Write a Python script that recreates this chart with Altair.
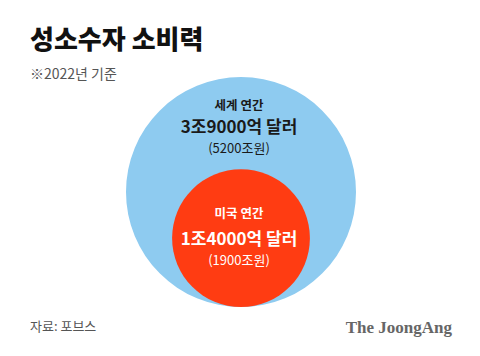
import altair as alt
import pandas as pd

# ---- data ----
labels = ["세계", "미국"]
values_usd_trillion = [3.9, 1.4]
line1 = ["세계 연간", "미국 연간"]
line2 = ["3조9000억 달러", "1조4000억 달러"]
line3 = ["(5200조원)", "(1900조원)"]
colors = ["#8ECBF0", "#FF3C12"]
text_colors = ["#1A1A1A", "#FFFFFF"]

title = "성소수자 소비력"
subtitle = "※2022년 기준"
source = "자료: 포브스"
brand = "The JoongAng"

# ---- layout (chart pixel space) ----
W, H = 464, 340
R_MAX = 115
BOTTOM = 299
CX = 233
FONT = "Noto Sans CJK KR"

df = pd.DataFrame({
    "label": labels,
    "value": values_usd_trillion,
    "line1": line1,
    "line2": line2,
    "line3": line3,
})

vmax = max(values_usd_trillion)
xs = alt.Scale(domain=[0, W], range=[0, W], nice=False, zero=False)
ys = alt.Scale(domain=[0, H], range=[0, H], nice=False, zero=False)

base = alt.Chart(df).transform_calculate(
    r=f"sqrt(datum.value / {vmax}) * {R_MAX}",
    cx=f"{CX}",
).transform_calculate(
    cy=f"{BOTTOM} - datum.r"
)

# Vega circle symbol: diameter = sqrt(size), so size is proportional to value (area)
circles = base.mark_circle(opacity=1, strokeWidth=0).encode(
    x=alt.X("cx:Q", scale=xs, axis=None),
    y=alt.Y("cy:Q", scale=ys, axis=None),
    size=alt.Size("value:Q", scale=alt.Scale(domain=[0, vmax], range=[0, (2 * R_MAX) ** 2], zero=True), legend=None),
    color=alt.Color("label:N", scale=alt.Scale(domain=labels, range=colors), legend=None),
)

# label line y positions per circle (chart px) and style per line
line_y = {"세계": [98, 120, 141], "미국": [206, 232, 253]}
line_style = [("line1", 12.5, "bold"), ("line2", 17, "bold"), ("line3", 13, "normal")]

text_layers = []
for i, lab in enumerate(labels):
    for j, (field, size, weight) in enumerate(line_style):
        text_layers.append(
            alt.Chart(df).transform_filter(alt.datum.label == lab).mark_text(
                font=FONT, fontSize=size, fontWeight=weight, color=text_colors[i],
                align="center", baseline="middle",
            ).encode(
                x=alt.value(CX - 2),
                y=alt.value(line_y[lab][j]),
                text=f"{field}:N",
            )
        )

def label(txt, x, y, size, weight="normal", color="#111", align="left", font=FONT):
    return alt.Chart(pd.DataFrame({"t": [txt]})).mark_text(
        font=font, fontSize=size, fontWeight=weight, color=color,
        align=align, baseline="middle",
    ).encode(x=alt.value(x), y=alt.value(y), text="t:N")

title_l = label(title, 22, 33, 26, 900, "#111111")
sub_l = label(subtitle, 22, 67, 14, "normal", "#555555")
src_l = label(source, 22, 319, 13, "normal", "#555555")
brand_l = label(brand, 444, 320, 17, "bold", "#666666", align="right", font="Liberation Serif")

chart = alt.layer(circles, *text_layers, title_l, sub_l, src_l, brand_l).properties(
    width=W, height=H, padding=0, autosize=alt.AutoSizeParams(type="none"),
    background="#FFFFFF",
).configure_view(stroke=None)

chart.save("out.html", embed_options={"renderer": "svg", "actions": False})
